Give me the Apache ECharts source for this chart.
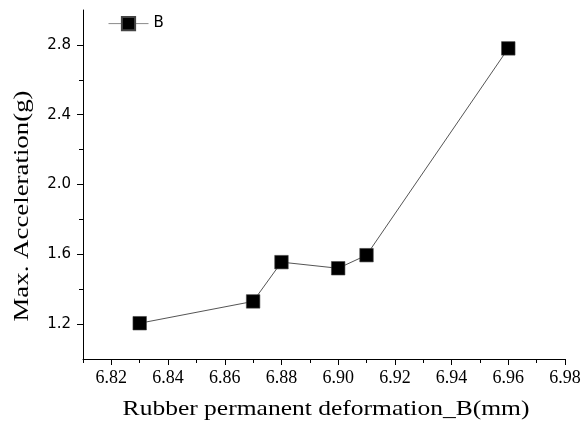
<!DOCTYPE html>
<html>
<head>
<meta charset="utf-8">
<script src="https://cdn.jsdelivr.net/npm/echarts@6/dist/echarts.min.js"></script>
<style>
  html, body { margin: 0; padding: 0; background: #fff; }
  #chart { width: 586px; height: 429px; }
</style>
</head>
<body>
<div id="chart"></div>
<script>
// Measured deformation (mm) and peak acceleration (g) for rubber sample B
const deformation = [6.83, 6.87, 6.88, 6.90, 6.91, 6.96];
const maxAcceleration = [1.205, 1.33, 1.555, 1.52, 1.595, 2.78];

// Axis tick positions
const xMajorTicks = [6.82, 6.84, 6.86, 6.88, 6.90, 6.92, 6.94, 6.96, 6.98];
const xMinorTicks = [6.81, 6.83, 6.85, 6.87, 6.89, 6.91, 6.93, 6.95, 6.97];
const yMajorTicks = [1.2, 1.6, 2.0, 2.4, 2.8];
const yMinorTicks = [1.4, 1.8, 2.2, 2.6];

const seriesName = 'B';
const xTitle = 'Rubber permanent deformation_B(mm)';
const yTitle = 'Max. Acceleration(g)';

const chart = echarts.init(document.getElementById('chart'));

const grid = { left: 83, right: 21, top: 10, bottom: 70 };
const xRange = { min: 6.81, max: 6.98 };
const yRange = { min: 1.0, max: 3.0 };
const titleFont = '22px "Liberation Serif"';

chart.setOption({
  animation: false,
  backgroundColor: '#ffffff',
  grid: grid,
  legend: {
    left: 108,
    top: 16,
    padding: 0,
    itemWidth: 40,
    itemHeight: 16.5,
    lineStyle: { color: '#8a8a8a', width: 1 },
    textStyle: { fontFamily: 'DejaVu Sans', fontSize: 15, color: '#000' },
    data: [seriesName]
  },
  // axis titles, drawn wide (horizontally stretched serif lettering)
  graphic: [
    {
      type: 'text',
      x: 326, y: 409.5,
      scaleX: 1.16,
      style: { text: xTitle, font: titleFont, fill: '#000', align: 'center', verticalAlign: 'middle' }
    },
    {
      type: 'text',
      x: 22, y: 206,
      rotation: Math.PI / 2,
      scaleX: 1.22,
      style: { text: yTitle, font: titleFont, fill: '#000', align: 'center', verticalAlign: 'middle' }
    }
  ],
  xAxis: [
    {
      type: 'value',
      min: xRange.min, max: xRange.max,
      splitLine: { show: false },
      axisLine: { onZero: false, lineStyle: { color: '#000', width: 1 } },
      axisTick: { show: true, length: 6, customValues: xMajorTicks, lineStyle: { color: '#000' } },
      axisLabel: {
        customValues: xMajorTicks,
        margin: 10,
        fontFamily: 'Liberation Serif', fontSize: 18, color: '#000',
        formatter: v => v.toFixed(2)
      }
    },
    {
      type: 'value',
      position: 'bottom',
      min: xRange.min, max: xRange.max,
      splitLine: { show: false },
      axisLine: { show: false },
      axisTick: { show: true, length: 4, customValues: xMinorTicks, lineStyle: { color: '#000' } },
      axisLabel: { show: false }
    }
  ],
  yAxis: [
    {
      type: 'value',
      min: yRange.min, max: yRange.max,
      splitLine: { show: false },
      axisLine: { onZero: false, lineStyle: { color: '#000', width: 1 } },
      axisTick: { show: true, length: 6, customValues: yMajorTicks, lineStyle: { color: '#000' } },
      axisLabel: {
        customValues: yMajorTicks,
        margin: 12,
        fontFamily: 'DejaVu Sans', fontSize: 15, color: '#000',
        formatter: v => v.toFixed(1)
      }
    },
    {
      type: 'value',
      position: 'left',
      min: yRange.min, max: yRange.max,
      splitLine: { show: false },
      axisLine: { show: false },
      axisTick: { show: true, length: 4, customValues: yMinorTicks, lineStyle: { color: '#000' } },
      axisLabel: { show: false }
    }
  ],
  series: [
    {
      name: seriesName,
      type: 'line',
      xAxisIndex: 0,
      yAxisIndex: 0,
      data: deformation.map((x, i) => [x, maxAcceleration[i]]),
      symbol: 'rect',
      symbolSize: 13.5,
      lineStyle: { color: '#555', width: 1 },
      itemStyle: { color: '#000', borderColor: '#444', borderWidth: 0.6 }
    }
  ]
});
</script>
</body>
</html>
